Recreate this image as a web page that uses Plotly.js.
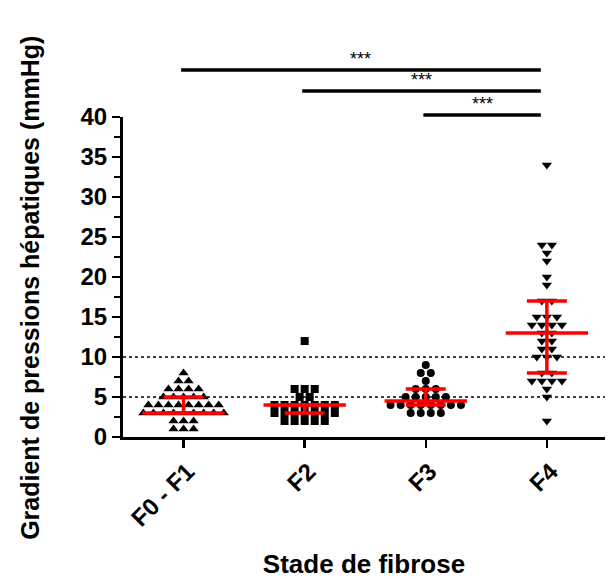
<!DOCTYPE html>
<html>
<head>
<meta charset="utf-8">
<script src="https://cdn.plot.ly/plotly-3.0.1.min.js"></script>
<style>
  html, body { margin: 0; padding: 0; background: #fff; }
  #chart { width: 615px; height: 579px; }
</style>
</head>
<body>
<div id="chart"></div>
<script>
// Hepatic venous pressure gradient (mmHg) by fibrosis stage
const categories = ['F0 - F1', 'F2', 'F3', 'F4'];

const gradF0F1 = [8, 7, 7, 6, 6, 6, 6, 5, 5, 5, 5, 5, 4, 4, 4, 4, 4, 4, 4, 4,
                  3, 3, 3, 3, 3, 3, 3, 3, 3, 2, 2, 2, 1, 1, 1];
const gradF2 = [12, 6, 6, 6, 5, 5, 4, 4, 4, 4, 4, 4, 4, 3, 3, 3, 3, 3, 3, 3,
                2, 2, 2, 2, 2];
const gradF3 = [9, 8, 8, 7, 6, 6, 6, 5, 5, 5, 5, 5, 4, 4, 4, 4, 4, 4, 4, 4,
                3, 3, 3, 3];
const gradF4 = [34, 24, 24, 23, 22, 20, 19, 17, 17, 15, 15, 15, 14, 14, 14, 14,
                13, 13, 12, 12, 11, 11, 10, 10, 10, 8, 8, 7, 7, 7, 7, 6, 5, 2];

// median and interquartile range per stage
const medians = [3, 4, 4.5, 13];
const q1 = [3, 3, 4, 8];
const q3 = [5, 4, 6, 17];

// pairwise comparisons shown above the plot
const compFrom = [0, 1, 2];
const compTo = [3, 3, 3];
const compLabel = ['***', '***', '***'];

const groups = [gradF0F1, gradF2, gradF3, gradF4];
const symbols = ['triangle-up', 'square', 'circle', 'triangle-down'];
const markerSizes = [9, 8, 8, 9];

// column scatter: equal values are spread side by side around the category centre
const STEP = 0.083;
function columnScatter(values, idx) {
  const counts = {};
  values.forEach(v => { counts[v] = (counts[v] || 0) + 1; });
  const seen = {};
  return values.map(v => {
    const k = seen[v] || 0;
    seen[v] = k + 1;
    return idx + (k - (counts[v] - 1) / 2) * STEP;
  });
}

const traces = groups.map((vals, i) => ({
  type: 'scatter',
  mode: 'markers',
  x: columnScatter(vals, i),
  y: vals,
  marker: { symbol: symbols[i], size: markerSizes[i], color: '#000' },
  hoverinfo: 'y',
  showlegend: false,
  cliponaxis: false
}));

// red median / IQR bars
const MED_HALF = 0.34, Q_HALF = 0.165;
const ex = [], ey = [];
categories.forEach((c, i) => {
  ex.push(i - MED_HALF, i + MED_HALF, null); ey.push(medians[i], medians[i], null);
  ex.push(i - Q_HALF, i + Q_HALF, null);     ey.push(q1[i], q1[i], null);
  ex.push(i - Q_HALF, i + Q_HALF, null);     ey.push(q3[i], q3[i], null);
  ex.push(i, i, null);                       ey.push(q1[i], q3[i], null);
});
traces.push({
  type: 'scatter', mode: 'lines', x: ex, y: ey,
  line: { color: '#ff0000', width: 3.5 },
  hoverinfo: 'skip', showlegend: false, cliponaxis: false
});

const FONT = 'Liberation Sans, Arial, sans-serif';

// reference lines at 5 and 10 mmHg
const shapes = [5, 10].map(v => ({
  type: 'line', xref: 'paper', x0: 0, x1: 1, yref: 'y', y0: v, y1: v,
  line: { color: '#000', width: 1.5, dash: 'dot' }, layer: 'below'
}));

// significance bars
const barY = [1.147, 1.081, 1.006];
const annotations = [];
compFrom.forEach((a, k) => {
  const b = compTo[k] - 0.05;
  shapes.push({
    type: 'line', xref: 'x', yref: 'paper', x0: a - 0.02, x1: b, y0: barY[k], y1: barY[k],
    line: { color: '#000', width: 3.5 }
  });
  annotations.push({
    xref: 'x', yref: 'paper', x: (a - 0.02 + b) / 2, y: barY[k],
    text: compLabel[k], showarrow: false, yanchor: 'bottom', yshift: -1,
    font: { family: FONT, size: 18, color: '#000' }
  });
});

// y axis title, placed slightly below the plot-area centre
annotations.push({
  xref: 'paper', yref: 'paper', x: -0.193, y: 0.466,
  xanchor: 'center', yanchor: 'middle', textangle: -90, showarrow: false,
  text: 'Gradient de pressions hépatiques (mmHg)',
  font: { family: FONT, size: 25, weight: 'bold', color: '#000' }
});

const layout = {
  width: 615, height: 579,
  margin: { l: 123, r: 10, t: 117, b: 142 },
  paper_bgcolor: '#fff', plot_bgcolor: '#fff',
  font: { family: FONT, color: '#000' },
  showlegend: false,
  xaxis: {
    range: [-0.5, 3.48],
    tickvals: [0, 1, 2, 3], ticktext: categories,
    tickangle: -45,
    ticks: 'outside', ticklen: 8, tickwidth: 2.5, tickcolor: '#000',
    ticklabelshift: 4,
    showline: true, linewidth: 3, linecolor: '#000',
    showgrid: false, zeroline: false,
    tickfont: { family: FONT, size: 24, weight: 'bold', color: '#000' },
    title: { text: 'Stade de fibrose', standoff: 30,
             font: { family: FONT, size: 26, weight: 'bold', color: '#000' } }
  },
  yaxis: {
    range: [0, 40], tick0: 0, dtick: 5,
    ticks: 'outside', ticklen: 8, tickwidth: 2.5, tickcolor: '#000',
    minor: { dtick: 2.5, ticks: 'outside', ticklen: 6, tickwidth: 2, tickcolor: '#000' },
    showline: true, linewidth: 3, linecolor: '#000',
    showgrid: false, zeroline: false,
    tickfont: { family: FONT, size: 24, weight: 'bold', color: '#000' }
  },
  shapes: shapes,
  annotations: annotations
};

Plotly.newPlot('chart', traces, layout, { displayModeBar: false, staticPlot: true });
</script>
</body>
</html>
